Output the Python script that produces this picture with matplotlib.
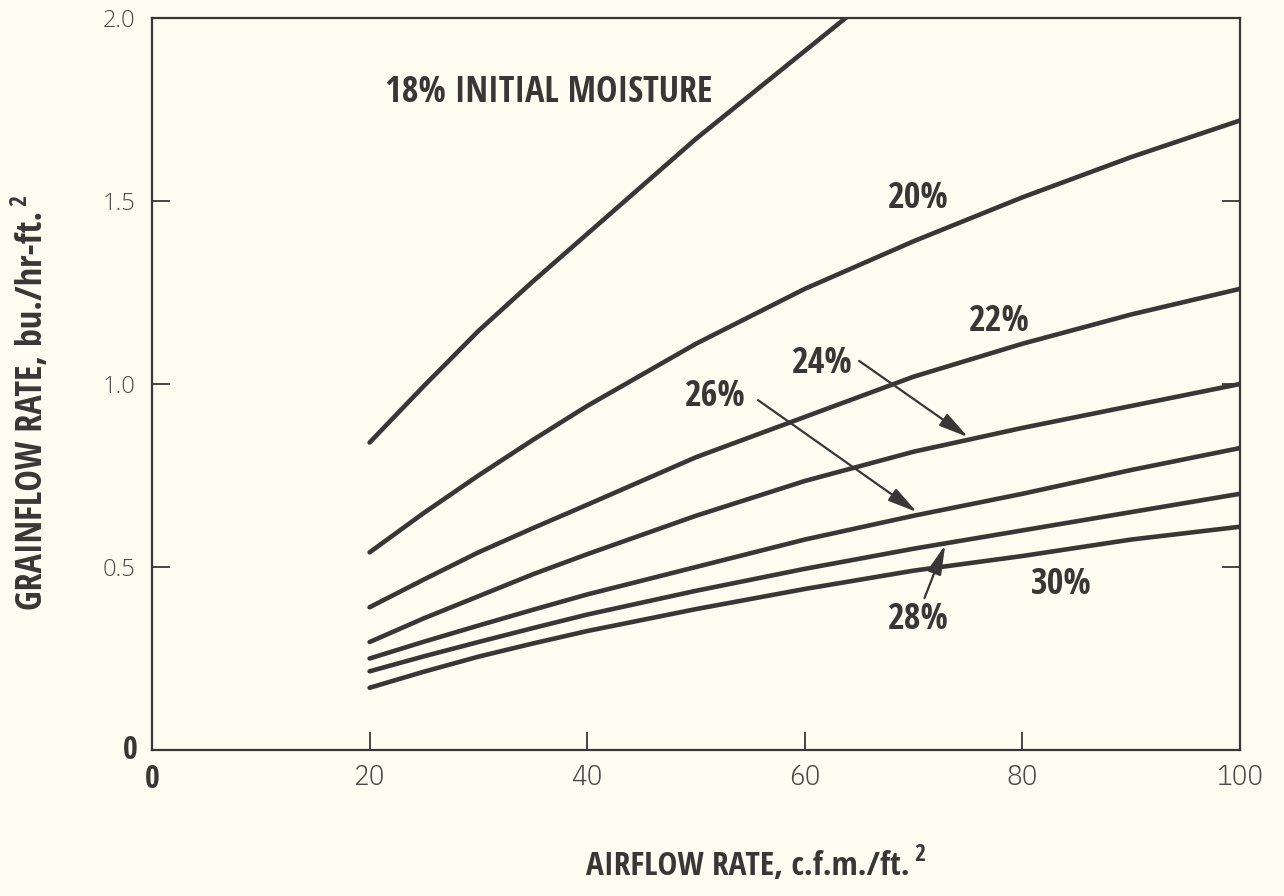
import matplotlib
matplotlib.use("Agg")
import matplotlib.pyplot as plt

# airflow rate, c.f.m./ft.^2
airflow = [20, 25, 30, 35, 40, 50, 60, 70, 80, 90, 100]
airflow_18 = [20, 25, 30, 35, 40, 50, 60, 65]

# grainflow rate, bu./hr-ft.^2, for each initial moisture content
rate_18 = [0.84, 0.995, 1.145, 1.28, 1.41, 1.67, 1.91, 2.03]
rate_20 = [0.54, 0.648, 0.75, 0.847, 0.94, 1.11, 1.26, 1.39, 1.51, 1.62, 1.72]
rate_22 = [0.39, 0.466, 0.54, 0.606, 0.67, 0.80, 0.91, 1.02, 1.11, 1.19, 1.26]
rate_24 = [0.295, 0.36, 0.42, 0.48, 0.535, 0.64, 0.735, 0.815, 0.88, 0.94, 1.00]
rate_26 = [0.25, 0.296, 0.34, 0.383, 0.425, 0.50, 0.575, 0.64, 0.70, 0.765, 0.825]
rate_28 = [0.215, 0.256, 0.295, 0.333, 0.37, 0.435, 0.495, 0.55, 0.60, 0.65, 0.70]
rate_30 = [0.17, 0.214, 0.255, 0.291, 0.325, 0.385, 0.44, 0.49, 0.53, 0.575, 0.61]

x_ticks = [20, 40, 60, 80, 100]
x_tick_labels = ["20", "40", "60", "80", "100"]
y_ticks = [0.5, 1.0, 1.5, 2.0]
y_tick_labels = ["0.5", "1.0", "1.5", "2.0"]

# curve labels: text, x, y
curve_labels = [
    ("18% INITIAL MOISTURE", 21.4, 1.795),
    ("20%", 70.4, 1.505),
    ("22%", 77.9, 1.169),
    ("24%", 61.6, 1.055),
    ("26%", 51.8, 0.965),
    ("28%", 70.4, 0.355),
    ("30%", 83.6, 0.451),
]

# leader arrows: (tail x, tail y), (head x, head y)
leaders = [
    ((65.0, 1.063), (75.0, 0.855)),
    ((55.7, 0.956), (70.3, 0.650)),
    ((71.0, 0.415), (72.9, 0.560)),
]

BG = "#fcfcf0"
INK = "#3a3636"
GREY = "#4d4949"

BOLD = dict(family=["Open Sans Condensed", "DejaVu Sans"], fontweight="bold", color=INK)
XNUM = dict(family=["IBM Plex Sans Condensed", "DejaVu Sans"], fontweight=300, color=GREY)
YNUM = dict(family=["Open Sans", "DejaVu Sans"], fontweight=300, fontstretch="normal", color=GREY)

fig = plt.figure(figsize=(12.84, 8.96), dpi=100, facecolor=BG)
ax = fig.add_axes([152 / 1284, 146 / 896, 1088 / 1284, 732 / 896])
ax.set_facecolor(BG)

line_kw = dict(color=INK, lw=3.3, solid_capstyle="round", solid_joinstyle="round")
ax.plot(airflow_18, rate_18, **line_kw)
for rate in (rate_20, rate_22, rate_24, rate_26, rate_28, rate_30):
    ax.plot(airflow, rate, **line_kw)

ax.set_xlim(0, 100)
ax.set_ylim(0, 2.0)

for side in ("left", "right", "top", "bottom"):
    ax.spines[side].set_color(INK)
    ax.spines[side].set_linewidth(1.6)

ax.set_xticks(x_ticks, labels=x_tick_labels, fontsize=21, **XNUM)
ax.set_yticks(y_ticks, labels=y_tick_labels, fontsize=17, **YNUM)
ax.tick_params(axis="both", direction="in", length=13, width=1.3, color=INK)
ax.tick_params(axis="x", pad=10)
ax.tick_params(axis="y", pad=12, right=True)

# bold zeros at the origin
ax.annotate("0", xy=(0, 0), xytext=(-10, 0), textcoords="offset points",
            ha="right", va="center", fontsize=23, **BOLD)
ax.annotate("0", xy=(0, 0), xytext=(0, -9), textcoords="offset points",
            ha="center", va="top", fontsize=23, **BOLD)

for text, x, y in curve_labels:
    ha = "left" if text.startswith("18") else "center"
    ax.text(x, y, text, ha=ha, va="center", fontsize=26, **BOLD)

for tail, head in leaders:
    ax.annotate("", xy=head, xytext=tail,
                arrowprops=dict(arrowstyle="-|>,head_length=0.9,head_width=0.22",
                                color=INK, lw=1.6, mutation_scale=20,
                                shrinkA=0, shrinkB=0))

xlab = fig.text(748 / 1284, 1 - 866 / 896, "AIRFLOW RATE, c.f.m./ft.", ha="center",
                va="center", fontsize=24, **BOLD)
fig.canvas.draw()
ax.annotate("2", xy=(1, 1), xycoords=xlab, xytext=(3, 5), textcoords="offset points",
            ha="left", va="top", fontsize=17, **BOLD)

ylab = fig.text(33 / 1284, 1 - 410 / 896, "GRAINFLOW RATE, bu./hr-ft.", ha="center",
                va="center", rotation=90, fontsize=26, **BOLD)
fig.canvas.draw()
ax.annotate("2", xy=(0, 1), xycoords=ylab, xytext=(-5, 3), textcoords="offset points",
            ha="left", va="bottom", rotation=90, fontsize=17, **BOLD)

fig.savefig("out.png", dpi=100, facecolor=BG)
